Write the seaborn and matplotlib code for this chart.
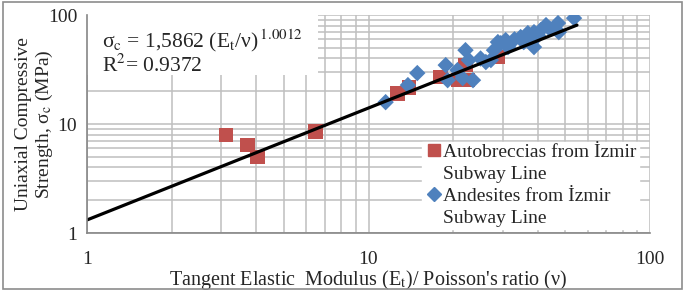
import numpy as np
import pandas as pd
import matplotlib
matplotlib.use("Agg")
import matplotlib.pyplot as plt
import seaborn as sns
from matplotlib.patches import Rectangle
from matplotlib.lines import Line2D
from matplotlib.ticker import LogLocator, NullFormatter, FixedLocator, FixedFormatter

# 資料
auto_x = [3.12, 3.71, 4.03, 6.48, 12.7, 13.9, 18.0, 20.8, 22.1, 22.5, 28.8]
auto_y = [7.93, 6.41, 4.98, 8.6, 19.2, 21.8, 27.0, 25.3, 34.8, 25.3, 41.2]

andes_x = [11.5, 13.8, 14.9, 18.8, 19.1, 20.7, 21.6, 22.1, 22.7, 23.5, 25.0, 26.1,
           27.2, 27.9, 28.8, 29.5, 30.7, 31.3, 33.0, 34.7, 35.6, 36.8, 37.7, 38.7,
           38.7, 40.0, 40.9, 42.7, 44.0, 47.1, 47.4, 53.7]
andes_y = [15.9, 22.8, 29.4, 34.8, 25.3, 31.3, 26.4, 47.7, 38.7, 25.3, 40.0, 37.1,
           38.7, 47.7, 56.6, 55.3, 59.0, 50.9, 60.0, 62.9, 56.6, 68.4, 59.0, 69.8,
           50.9, 65.0, 72.8, 81.0, 75.0, 84.5, 69.8, 93.8]

fit_x = [1.0, 55.0]
fit_y = [1.32, 81.0]

red = '#C0504D'
blue = '#4F81BD'

sns.set_style("white")
plt.rcParams['font.family'] = ['Liberation Serif', 'DejaVu Serif']
plt.rcParams['mathtext.fontset'] = 'stix'

fig = plt.figure(figsize=(6.85, 2.91), dpi=100)
ax = fig.add_axes([0.127, 0.199, 0.822, 0.749])

# 外框
fig.patches.append(Rectangle((0.004, 0.007), 0.992, 0.986, transform=fig.transFigure,
                             fill=False, edgecolor='#8c8c8c', linewidth=1.2))

ax.set_xscale('log')
ax.set_yscale('log')
ax.set_xlim(1, 100)
ax.set_ylim(1, 100)

ax.xaxis.set_major_locator(FixedLocator([1, 10, 100]))
ax.xaxis.set_major_formatter(FixedFormatter(['1', '10', '100']))
ax.yaxis.set_major_locator(FixedLocator([1, 10, 100]))
ax.yaxis.set_major_formatter(FixedFormatter(['1', '10', '100']))
ax.xaxis.set_minor_locator(LogLocator(base=10, subs=np.arange(2, 10)))
ax.yaxis.set_minor_locator(LogLocator(base=10, subs=np.arange(2, 10)))
ax.xaxis.set_minor_formatter(NullFormatter())
ax.yaxis.set_minor_formatter(NullFormatter())

ax.grid(True, which='both', color='#bfbfbf', linewidth=1.1)
ax.set_axisbelow(True)
for s in ['top', 'right']:
    ax.spines[s].set_visible(False)
for s in ['left', 'bottom']:
    ax.spines[s].set_color('#868686')
    ax.spines[s].set_linewidth(1.2)
    ax.spines[s].set_zorder(7)

ax.tick_params(axis='both', which='major', direction='out', length=5, color='#868686',
               labelsize=14, pad=2)
ax.tick_params(axis='x', which='major', pad=8)
ax.tick_params(axis='x', which='minor', direction='out', length=3, color='#868686')
ax.tick_params(axis='y', which='minor', length=0)

# 公式區白底
ax.add_patch(Rectangle((0, 0.725), 0.41, 0.275, transform=ax.transAxes,
                       facecolor='white', edgecolor='none', zorder=1))

sns.lineplot(x=fit_x, y=fit_y, ax=ax, color='black', linewidth=2.3, zorder=4,
             legend=False)
sns.scatterplot(x=auto_x, y=auto_y, ax=ax, marker='s', s=110, color=red,
                edgecolor='none', zorder=3)
sns.scatterplot(x=andes_x, y=andes_y, ax=ax, marker='D', s=70, color=blue,
                edgecolor='none', zorder=3)

handles = [Line2D([], [], linestyle='none', marker='s', markersize=9, color=red),
           Line2D([], [], linestyle='none', marker='none'),
           Line2D([], [], linestyle='none', marker='D', markersize=7, color=blue),
           Line2D([], [], linestyle='none', marker='none')]
labels = ['Autobreccias from İzmir', 'Subway Line',
          'Andesites from İzmir', 'Subway Line']
leg = ax.legend(handles, labels, loc='lower right', bbox_to_anchor=(0.997, -0.025),
                fontsize=14, frameon=True, fancybox=False, edgecolor='white',
                framealpha=1, handletextpad=0.0, handlelength=1.0, labelspacing=0.22,
                borderpad=0.1)
leg.set_zorder(6)

ax.text(0.027, 0.945, 'σ$_\\mathrm{c}$ = 1,5862 (E$_\\mathrm{t}$/ν)$^{\\,1.0012}$\nR$^2$= 0.9372',
        transform=ax.transAxes, fontsize=15.5, va='top', ha='left', linespacing=1.05,
        zorder=5)

ax.set_xlabel("Tangent Elastic  Modulus (E$_\\mathrm{t}$)/ Poisson's ratio (ν)",
              fontsize=14.5, labelpad=0)
ax.set_ylabel('Uniaxial Compressive\nStrength, σ$_\\mathrm{c}$ (MPa)', fontsize=14,
              linespacing=1.15)
ax.yaxis.set_label_coords(-0.057, 0.5)

fig.savefig('out.png', dpi=100)
